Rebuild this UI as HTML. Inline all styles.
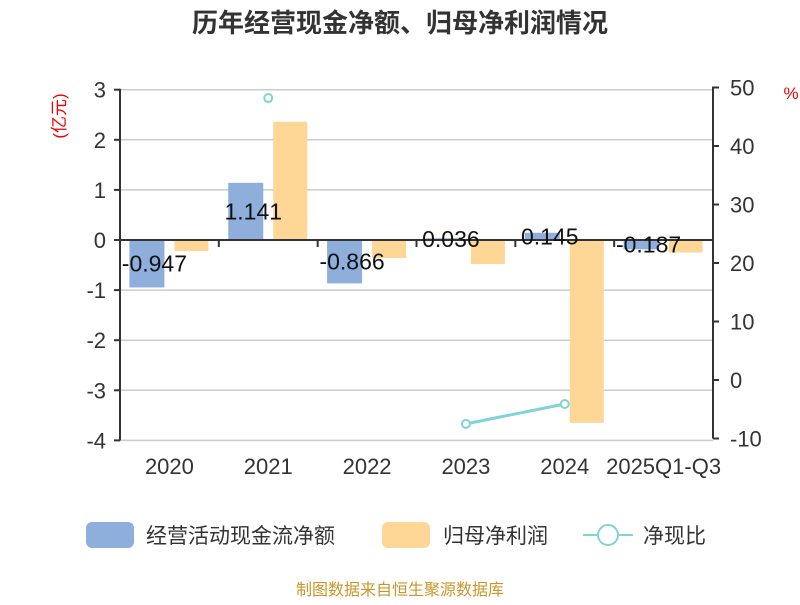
<!DOCTYPE html>
<html><head><meta charset="utf-8"><style>
body{margin:0;background:#fff;font-family:"Liberation Sans","Noto Sans CJK SC",sans-serif}
</style></head><body>
<svg id="c" width="800" height="600" xmlns="http://www.w3.org/2000/svg" style="font-family:'Liberation Sans','Noto Sans CJK SC',sans-serif">
<text x="400" y="32" text-anchor="middle" font-size="26" font-weight="bold" fill="#333">历年经营现金净额、归母净利润情况</text>
<text transform="translate(65,116) rotate(-90)" text-anchor="middle" font-size="17" fill="#e00">(亿元)</text>
<text x="791" y="99" text-anchor="middle" font-size="17" fill="#e00">%</text>
<g id="grid"></g><g id="bars"></g><g id="axes"></g><g id="line"></g><g id="labels"></g>
<g>
<rect x="86" y="522" width="48" height="26" rx="6" fill="#8eaedc"/>
<text x="146" y="543" font-size="21" fill="#333">经营活动现金流净额</text>
<rect x="382" y="522" width="48" height="26" rx="6" fill="#fed695"/>
<text x="443" y="543" font-size="21" fill="#333">归母净利润</text>
<line x1="583" y1="535" x2="633" y2="535" stroke="#7fd3d9" stroke-width="2"/>
<circle cx="608" cy="535" r="10" fill="#fff" stroke="#7fd3d9" stroke-width="2"/>
<text x="643" y="543" font-size="21" fill="#333">净现比</text>
</g>
<text x="400" y="595" text-anchor="middle" font-size="16" fill="#c8962a">制图数据来自恒生聚源数据库</text>
</svg>
<script>
const categories=["2020","2021","2022","2023","2024","2025Q1-Q3"];
const cashflow=[-0.947,1.141,-0.866,0.036,0.145,-0.187];
const profit=[-0.22,2.36,-0.36,-0.48,-3.65,-0.25];
const ratio=[null,48.2,null,-7.5,-4.1,null];
const leftTicks=[3,2,1,0,-1,-2,-3,-4];
const rightTicks=[50,40,30,20,10,0,-10];
const NS="http://www.w3.org/2000/svg";
const X0=120,X1=713,band=(X1-X0)/categories.length;
const yL=v=>240-v*50.1;
const yR=v=>380-v*5.85;
function mk(t,a,p){const e=document.createElementNS(NS,t);for(const k in a)e.setAttribute(k,a[k]);document.getElementById(p).appendChild(e);return e;}
leftTicks.forEach(v=>{
 if(v!==0){const g=mk('line',{x1:X0,x2:X1,y1:yL(v),y2:yL(v),stroke:'#ccc','stroke-width':1.5},'grid');
 
 }
 const t=mk('line',{x1:X0-6,x2:X0,y1:yL(v),y2:yL(v),stroke:'#333','stroke-width':2},'axes');
 
 
 const l=mk('text',{x:X0-14,y:yL(v)+8,'text-anchor':'end','font-size':22,fill:'#333'},'axes');l.textContent=v;
 
 
});
rightTicks.forEach(v=>{
 const t=mk('line',{x1:X1,x2:X1+6,y1:yR(v),y2:yR(v),stroke:'#333','stroke-width':2},'axes');
 
 
 const l=mk('text',{x:X1+17,y:yR(v)+8,'font-size':22,fill:'#333'},'axes');l.textContent=v;
 
 
});
let a=mk('line',{x1:X0,x2:X0,y1:yL(3)-1,y2:yL(-4),stroke:'#333','stroke-width':2},'axes');


a=mk('line',{x1:X1,x2:X1,y1:yR(50)-1,y2:yR(-10),stroke:'#333','stroke-width':2},'axes');


a=mk('line',{x1:X0,x2:X1,y1:yL(0),y2:yL(0),stroke:'#333','stroke-width':2},'axes');


categories.forEach((c,i)=>{
 const bx=X0+i*band, cx=bx+band/2;
 if(i>0){const t=mk('line',{x1:bx,x2:bx,y1:yL(0),y2:yL(0)+7,stroke:'#333','stroke-width':2},'axes');
 
 }
 const l=mk('text',{x:cx,y:474,'text-anchor':'middle','font-size':22,fill:'#333'},'axes');l.textContent=c;
 
 
 const v=cashflow[i];
 const b=mk('rect',{x:cx-40,width:35,y:Math.min(yL(v),yL(0)),height:Math.abs(yL(v)-yL(0)),fill:'#8eaedc'},'bars');
 
 
 const p=profit[i];
 const b2=mk('rect',{x:cx+5,width:34,y:Math.min(yL(p),yL(0)),height:Math.abs(yL(p)-yL(0)),fill:'#fed695'},'bars');
 
 
 const lb=mk('text',{x:cx-15,y:(yL(v)+yL(0))/2+8,'text-anchor':'middle','font-size':23,fill:'#111'},'labels');
 lb.textContent=v.toFixed(3);
 
 
});
let seg=[];
ratio.forEach((r,i)=>{
 if(r===null){seg=[];return;}
 const cx=X0+i*band+band/2;
 seg.push([cx,yR(r)]);
 if(seg.length>1){const ln=mk('line',{x1:seg[seg.length-2][0],y1:seg[seg.length-2][1],x2:cx,y2:yR(r),stroke:'#7fd3d9','stroke-width':3},'line');
 
 }
});
ratio.forEach((r,i)=>{
 if(r===null)return;
 const cx=X0+i*band+band/2;
 const c=mk('circle',{cx:cx,cy:yR(r),r:4,fill:'#fff',stroke:'#7fd3d9','stroke-width':2},'line');
 
 
});
</script>
</body></html>
